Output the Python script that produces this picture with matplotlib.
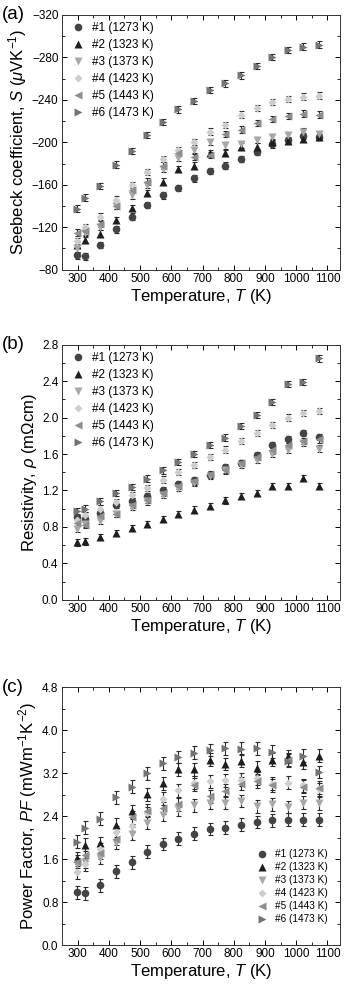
import numpy as np
import matplotlib
matplotlib.use('Agg')
import matplotlib.pyplot as plt
from matplotlib.ticker import MultipleLocator

plt.rcParams['font.family'] = ['Liberation Sans', 'DejaVu Sans']
plt.rcParams['mathtext.fontset'] = 'custom'
plt.rcParams['mathtext.it'] = 'Liberation Sans:italic'
plt.rcParams['mathtext.rm'] = 'Liberation Sans'

# Temperatures (K)
temps = [298, 323, 373, 423, 473, 523, 573, 623, 673, 723, 773, 823, 873, 923, 973, 1023, 1073]

labels = ['#1 (1273 K)', '#2 (1323 K)', '#3 (1373 K)', '#4 (1423 K)', '#5 (1443 K)', '#6 (1473 K)']

# Seebeck coefficient (uV/K)
S1 = [-93.5, -92.6, -103, -118, -130, -141, -150, -157, -166, -173, -178, -184, -191, -198, -202, -206, -205]
S2 = [-103, -108, -114, -127, -138, -152, -163, -175, -178, -190, -190, -196, -196, -200, -201, -203, -205]
S3 = [-100, -115, -120, -140, -150, -160, -175, -185, -193, -200, -197, -198, -202, -205, -207, -210, -208]
S4 = [-107, -120, -130, -146, -160, -172, -184, -193, -200, -210, -216, -226, -232, -238, -241, -243, -244]
S5 = [-115, -116, -123, -140, -155, -163, -178, -190, -186, -188, -208, -212, -218, -222, -225, -227, -226]
S6 = [-137.5, -148, -159, -179, -192, -207, -219, -231, -239, -249, -255.5, -263, -272, -280, -287, -290, -292]

# Resistivity (mOhm cm)
R1 = [0.91, 0.89, 0.95, 1.04, 1.08, 1.14, 1.20, 1.27, 1.31, 1.37, 1.46, 1.50, 1.59, 1.70, 1.76, 1.83, 1.79]
R2 = [0.63, 0.64, 0.69, 0.73, 0.79, 0.83, 0.89, 0.94, 0.99, 1.03, 1.09, 1.14, 1.17, 1.25, 1.25, 1.34, 1.25]
R3 = [0.78, 0.83, 0.87, 0.94, 1.02, 1.08, 1.15, 1.23, 1.28, 1.36, 1.42, 1.48, 1.54, 1.60, 1.65, 1.72, 1.66]
R4 = [0.88, 0.93, 1.00, 1.07, 1.15, 1.23, 1.32, 1.40, 1.48, 1.57, 1.65, 1.74, 1.83, 1.92, 2.00, 2.05, 2.07]
R5 = [0.84, 0.82, 0.92, 0.94, 1.04, 1.10, 1.17, 1.25, 1.30, 1.38, 1.43, 1.50, 1.57, 1.64, 1.70, 1.74, 1.76]
R6 = [0.97, 1.00, 1.08, 1.17, 1.24, 1.33, 1.42, 1.51, 1.60, 1.70, 1.78, 1.91, 2.03, 2.17, 2.37, 2.39, 2.65]

# Power factor (mW m^-1 K^-2)
P1 = [0.98, 0.96, 1.11, 1.37, 1.54, 1.74, 1.88, 1.98, 2.07, 2.16, 2.18, 2.24, 2.29, 2.32, 2.33, 2.33, 2.33]
P2 = [1.62, 1.87, 1.90, 2.24, 2.49, 2.81, 3.01, 3.27, 3.27, 3.45, 3.37, 3.43, 3.30, 3.45, 3.51, 3.40, 3.52]
P3 = [1.50, 1.55, 1.62, 1.90, 2.07, 2.28, 2.42, 2.53, 2.60, 2.65, 2.65, 2.68, 2.58, 2.62, 2.57, 2.65, 2.64]
P4 = [1.35, 1.50, 1.78, 2.10, 2.22, 2.45, 2.72, 2.88, 3.02, 3.05, 3.07, 3.08, 3.10, 3.00, 3.02, 2.97, 2.90]
P5 = [1.55, 1.68, 1.72, 1.98, 2.38, 2.50, 2.55, 2.62, 2.98, 2.77, 2.87, 3.00, 3.05, 2.97, 3.45, 2.95, 2.93]
P6 = [1.92, 2.18, 2.35, 2.75, 2.95, 3.20, 3.38, 3.50, 3.58, 3.63, 3.66, 3.65, 3.66, 3.60, 3.43, 3.52, 3.22]

# approximate error bar half-widths per panel
S_ERR = 3.0
R_ERR = 0.035
P_ERR = 0.12

MARKERS = ['o', '^', 'v', 'D', '<', '>']
COLORS = ['#444444', '#1e1e1e', '#a8a8a8', '#cdcdcd', '#8e8e8e', '#747474']
SIZES = [5.5, 5.5, 5.5, 4.2, 5.5, 5.5]


def style_axes(ax, ylim, ymajor):
    ax.set_xlim(250, 1140)
    ax.set_ylim(*ylim)
    ax.xaxis.set_major_locator(MultipleLocator(100))
    ax.xaxis.set_minor_locator(MultipleLocator(50))
    ax.yaxis.set_major_locator(MultipleLocator(ymajor))
    ax.yaxis.set_minor_locator(MultipleLocator(ymajor / 2))
    ax.tick_params(which='both', direction='in', top=True, right=True, labelsize=8.5)
    ax.tick_params(which='major', length=3.5, width=0.7, pad=2.5)
    ax.tick_params(which='minor', length=2, width=0.6)
    for sp in ax.spines.values():
        sp.set_linewidth(0.7)
        sp.set_color('#333333')
    ax.set_xlabel('Temperature, $T$ (K)', fontsize=12, labelpad=1)


def draw_series(ax, series, err):
    handles = []
    for i, y in enumerate(series):
        eb = ax.errorbar(temps, y, yerr=err, fmt=MARKERS[i], color=COLORS[i], ms=SIZES[i],
                         mec='none', ecolor='#2a2a2a', elinewidth=0.8, capsize=1.8,
                         capthick=0.8)
        handles.append(eb[0])
    return handles


fig = plt.figure(figsize=(3.48, 9.88), dpi=100)

# (a) Seebeck
ax1 = fig.add_axes([0.178, 0.727, 0.799, 0.258])
h1 = draw_series(ax1, [S1, S2, S3, S4, S5, S6], S_ERR)
style_axes(ax1, (-80, -320), 40)
ax1.set_ylabel('Seebeck coefficient, $S$ ($\\mu$VK$^{-1}$)', fontsize=12, labelpad=2)
ax1.legend(h1, labels, loc='upper left', frameon=False, fontsize=8.5, handletextpad=0.4,
           borderaxespad=0.25, labelspacing=0.42, handlelength=1.5, borderpad=0.4)

# (b) Resistivity
ax2 = fig.add_axes([0.178, 0.393, 0.799, 0.258])
h2 = draw_series(ax2, [R1, R2, R3, R4, R5, R6], R_ERR)
style_axes(ax2, (0, 2.8), 0.4)
ax2.set_ylabel('Resistivity, $\\rho$ (m$\\Omega$cm)', fontsize=12, labelpad=2)
ax2.legend(h2, labels, loc='upper left', frameon=False, fontsize=8.5, handletextpad=0.4,
           borderaxespad=0.25, labelspacing=0.42, handlelength=1.5, borderpad=0.4)

# (c) Power factor
ax3 = fig.add_axes([0.178, 0.0435, 0.799, 0.261])
h3 = draw_series(ax3, [P1, P2, P3, P4, P5, P6], P_ERR)
style_axes(ax3, (0, 4.8), 0.8)
ax3.set_ylabel('Power Factor, $PF$ (mWm$^{-1}$K$^{-2}$)', fontsize=12, labelpad=2)
ax3.legend(h3, labels, loc='lower right', bbox_to_anchor=(0.97, 0.065), frameon=False,
           fontsize=7.2, handletextpad=0.5, labelspacing=0.3, handlelength=1.5,
           borderaxespad=0.0)

for ax, tag in zip([ax1, ax2, ax3], ['(a)', '(b)', '(c)']):
    ax.text(-0.215, 1.0, tag, transform=ax.transAxes, fontsize=13.5, va='center', ha='left')

fig.savefig('out.png', dpi=100)
